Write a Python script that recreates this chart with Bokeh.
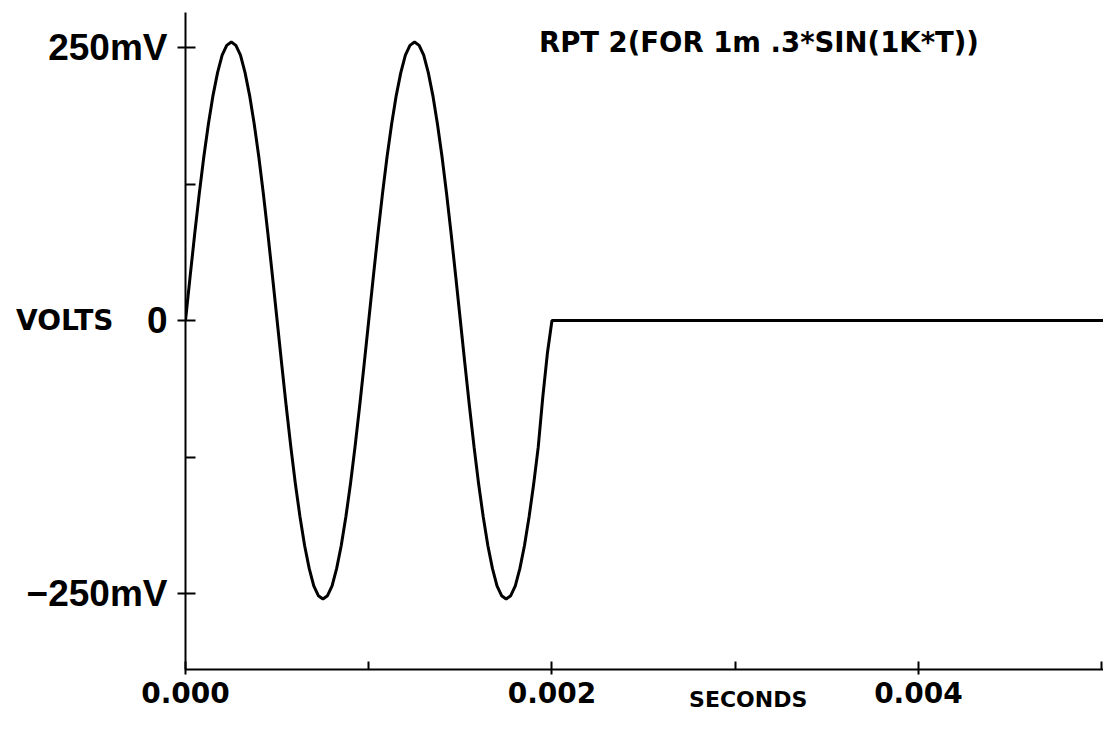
from bokeh.plotting import figure
from bokeh.models import Range1d, FixedTicker, Label, LinearAxis
from bokeh.embed import file_html
from bokeh.resources import INLINE

# time (s) and voltage (V)
times = [0.000000, 0.000025, 0.000050, 0.000075, 0.000100, 0.000125, 0.000150, 0.000175, 0.000200, 0.000225,
         0.000250, 0.000275, 0.000300, 0.000325, 0.000350, 0.000375, 0.000400, 0.000425, 0.000450, 0.000475,
         0.000500, 0.000525, 0.000550, 0.000575, 0.000600, 0.000625, 0.000650, 0.000675, 0.000700, 0.000725,
         0.000750, 0.000775, 0.000800, 0.000825, 0.000850, 0.000875, 0.000900, 0.000925, 0.000950, 0.000975,
         0.001000, 0.001025, 0.001050, 0.001075, 0.001100, 0.001125, 0.001150, 0.001175, 0.001200, 0.001225,
         0.001250, 0.001275, 0.001300, 0.001325, 0.001350, 0.001375, 0.001400, 0.001425, 0.001450, 0.001475,
         0.001500, 0.001525, 0.001550, 0.001575, 0.001600, 0.001625, 0.001650, 0.001675, 0.001700, 0.001725,
         0.001750, 0.001775, 0.001800, 0.001825, 0.001850, 0.001875, 0.001900, 0.001925, 0.001950, 0.001975,
         0.002000, 0.005100]
volts = [0.000, 0.040, 0.079, 0.116, 0.150, 0.180, 0.206, 0.227, 0.243, 0.252,
         0.255, 0.252, 0.243, 0.227, 0.206, 0.180, 0.150, 0.116, 0.079, 0.040,
         0.000, -0.040, -0.079, -0.116, -0.150, -0.180, -0.206, -0.227, -0.243, -0.252,
         -0.255, -0.252, -0.243, -0.227, -0.206, -0.180, -0.150, -0.116, -0.079, -0.040,
         0.000, 0.040, 0.079, 0.116, 0.150, 0.180, 0.206, 0.227, 0.243, 0.252,
         0.255, 0.252, 0.243, 0.227, 0.206, 0.180, 0.150, 0.116, 0.079, 0.040,
         0.000, -0.040, -0.079, -0.116, -0.150, -0.180, -0.206, -0.227, -0.243, -0.252,
         -0.255, -0.252, -0.243, -0.227, -0.206, -0.180, -0.150, -0.116, -0.070, -0.030,
         0.000, 0.000]

x_major = [0.0, 0.002, 0.004]
x_minor = [0.001, 0.003, 0.005]
x_tick_labels = {0.0: "0.000", 0.002: "0.002", 0.004: "0.004"}
y_major = [-0.25, 0.0, 0.25]
y_minor = [-0.125, 0.125]
y_tick_labels = {0.25: "250mV", 0: "0", -0.25: "\u2212250mV"}
title_text = "RPT 2(FOR 1m .3*SIN(1K*T))"
y_label_text = "VOLTS"
y_label_at = 0.0
x_label_text = "SECONDS"
x_label_at = 0.003071

p = figure(width=1103, height=721, output_backend="svg", toolbar_location=None,
           x_range=Range1d(0, 0.00501), y_range=Range1d(-0.3196, 0.2821),
           min_border_left=185, min_border_right=0, min_border_top=12, min_border_bottom=52)
p.outline_line_color = None
p.xgrid.visible = False
p.ygrid.visible = False
p.background_fill_color = "white"
p.border_fill_color = "white"

p.line(times, volts, line_color="black", line_width=3)

xa = p.xaxis[0]
xa.ticker = FixedTicker(ticks=x_major, minor_ticks=x_minor)
xa.major_label_overrides = x_tick_labels
xa.axis_line_width = 2
xa.major_tick_line_width = 2
xa.minor_tick_line_width = 2
xa.major_tick_in = 8
xa.major_tick_out = 5
xa.minor_tick_in = 8
xa.minor_tick_out = 0
xa.major_label_standoff = 7
xa.major_label_text_font = "DejaVu Sans"
xa.major_label_text_font_style = "bold"
xa.major_label_text_font_size = "28px"
xa.major_label_text_color = "black"

ya = p.yaxis[0]
ya.ticker = FixedTicker(ticks=y_major, minor_ticks=y_minor)
ya.major_label_overrides = y_tick_labels
ya.axis_line_width = 2
ya.major_tick_line_width = 2
ya.minor_tick_line_width = 2
ya.major_tick_in = 10
ya.major_tick_out = 8
ya.minor_tick_in = 10
ya.minor_tick_out = 0
ya.major_label_standoff = 10
ya.major_label_text_font = "Liberation Sans"
ya.major_label_text_font_style = "bold"
ya.major_label_text_font_size = "37px"
ya.major_label_text_color = "black"

# axis-name labels drawn as label-only axes
ylab = LinearAxis(ticker=FixedTicker(ticks=[y_label_at]), major_label_overrides={y_label_at: y_label_text})
xlab = LinearAxis(ticker=FixedTicker(ticks=[x_label_at]), major_label_overrides={x_label_at: x_label_text})
for ax in (ylab, xlab):
    ax.axis_line_color = None
    ax.major_tick_line_color = None
    ax.minor_tick_line_color = None
    ax.major_tick_in = 0
    ax.major_tick_out = 0
    ax.minor_tick_in = 0
    ax.minor_tick_out = 0
    ax.major_label_text_font = "DejaVu Sans"
    ax.major_label_text_font_style = "bold"
    ax.major_label_text_color = "black"
ylab.major_label_text_font_size = "28px"
ylab.major_label_standoff = -90
xlab.major_label_text_font_size = "22px"
xlab.major_label_standoff = -19
p.add_layout(ylab, "left")
p.add_layout(xlab, "below")

p.add_layout(Label(x=0.001929, y=0.2555, text=title_text, text_font="DejaVu Sans",
                   text_font_style="bold", text_font_size="27.5px", text_baseline="middle",
                   text_align="left", text_color="black"))

open("out.html", "w").write(file_html(p, INLINE))
